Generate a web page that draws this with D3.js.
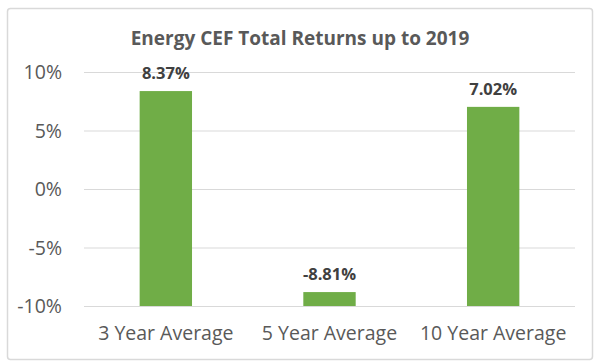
<!DOCTYPE html>
<html><head><meta charset="utf-8">
<script src="https://cdn.jsdelivr.net/npm/d3@7"></script>
<style>body{margin:0;background:#fff}svg{display:block}</style>
</head><body>
<svg id="c" width="600" height="364"></svg>
<script>
const categories = ["3 Year Average", "5 Year Average", "10 Year Average"];
const values = [8.37, -8.81, 7.02];
const valueLabels = ["8.37%", "-8.81%", "7.02%"];
const yTicks = [-10, -5, 0, 5, 10];
const title = "Energy CEF Total Returns up to 2019";

const svg = d3.select("#c");
const font = "'Open Sans', 'Liberation Sans', sans-serif";
svg.append("rect").attr("x", 7.5).attr("y", 8.5).attr("width", 585).attr("height", 351)
  .attr("rx", 3).attr("fill", "#fff").attr("stroke", "#d9d9d9").attr("stroke-width", 1.5);

const x = d3.scaleBand().domain(categories).range([84, 575]).paddingInner(0.68).paddingOuter(0.34);
const y = d3.scaleLinear().domain([-10, 10]).range([306, 72]);

svg.append("text").attr("x", 300).attr("y", 45).attr("text-anchor", "middle")
  .attr("font-family", font).attr("font-weight", "bold").attr("font-size", 19)
  .attr("fill", "#595959").text(title);

const yAxis = d3.axisLeft(y).tickValues(yTicks).tickSize(-(575 - 84)).tickFormat(d => d + "%").tickPadding(22);
const gy = svg.append("g").attr("transform", "translate(84,0)").call(yAxis);
gy.select(".domain").remove();
gy.selectAll(".tick line").attr("stroke", "#d9d9d9").attr("stroke-width", 1.2);
gy.selectAll(".tick text").attr("font-family", font).attr("font-size", 19.5).attr("fill", "#595959").attr("dy", "0.34em");

svg.append("g").selectAll("rect").data(values).join("rect")
  .attr("x", (d, i) => x(categories[i])).attr("width", x.bandwidth())
  .attr("y", d => y(d)).attr("height", d => y(-10) - y(d))
  .attr("fill", "#70AD47");

svg.append("g").selectAll("text").data(values).join("text")
  .attr("x", (d, i) => x(categories[i]) + x.bandwidth() / 2)
  .attr("y", d => y(d) - 12).attr("text-anchor", "middle")
  .attr("font-family", font).attr("font-weight", "bold").attr("font-size", 16.5)
  .attr("fill", "#404040").text((d, i) => valueLabels[i]);

const xAxis = d3.axisBottom(x).tickSize(0).tickPadding(20);
const gx = svg.append("g").attr("transform", `translate(0,${y(-10)})`).call(xAxis);
gx.select(".domain").remove();
gx.selectAll(".tick text").attr("font-family", font).attr("font-size", 19.5).attr("fill", "#595959");
</script>
</body></html>
